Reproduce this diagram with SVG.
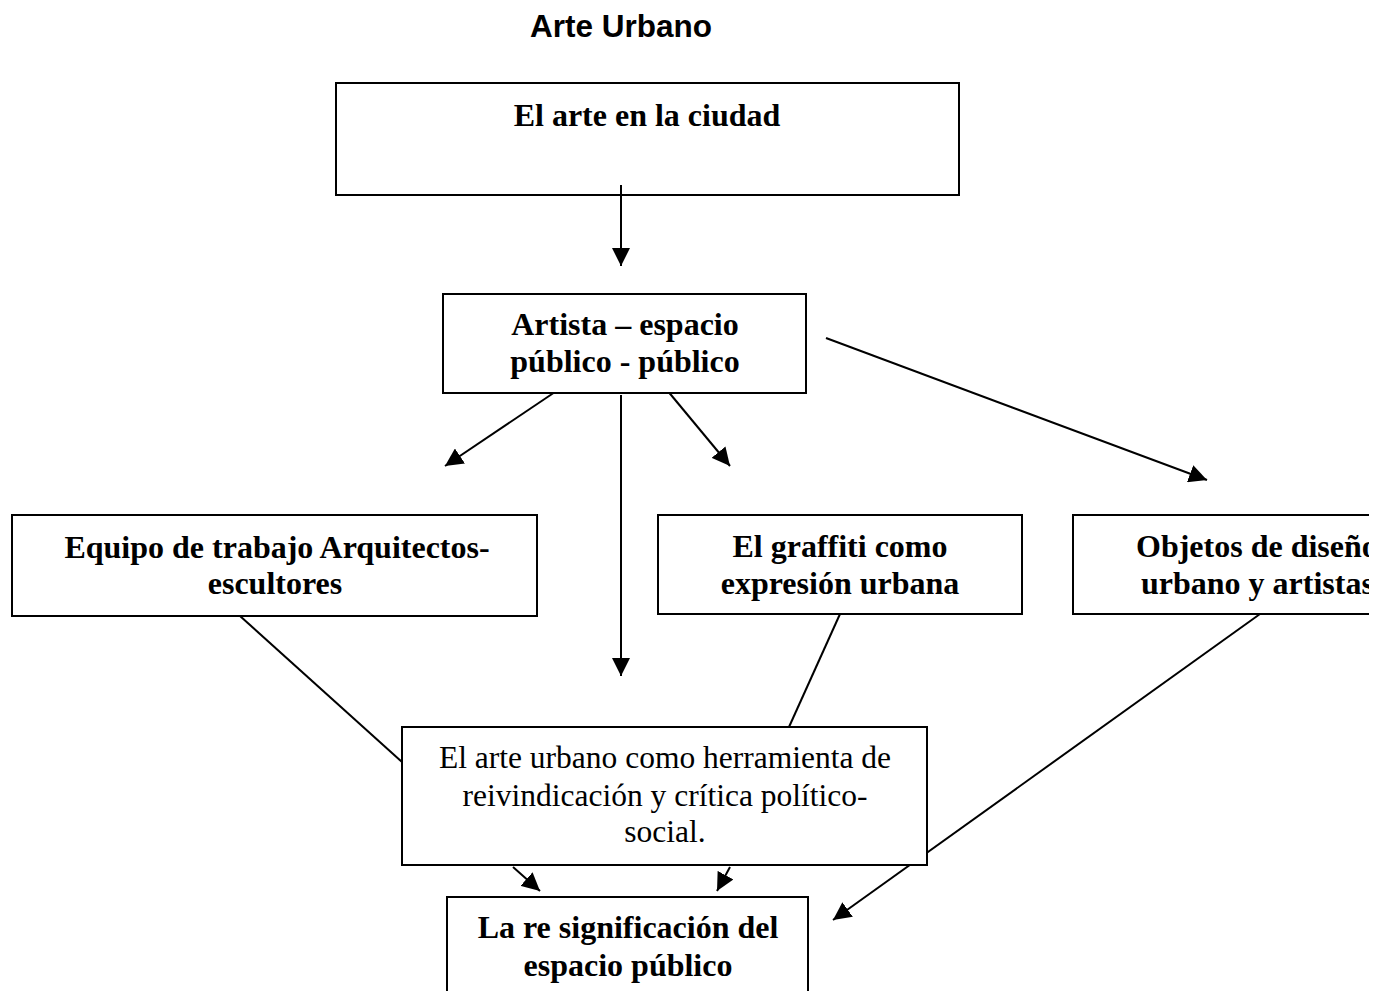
<svg xmlns="http://www.w3.org/2000/svg" width="1381" height="991" viewBox="0 0 1381 991">
<style>
.box{fill:#fff;stroke:#000;stroke-width:2}
.b{font-family:"Liberation Serif",serif;font-weight:bold;font-size:32px;fill:#000;text-anchor:middle}
.r{font-family:"Liberation Serif",serif;font-size:31.5px;fill:#000;text-anchor:middle}
.c{stroke:#000;stroke-width:2;fill:none}
.title{font-family:"Liberation Sans",Arial,sans-serif;font-weight:bold;font-size:31.5px;fill:#000}
</style>
<defs>
<marker id="ah2" viewBox="0 0 10 10" refX="10" refY="5" markerWidth="18" markerHeight="18" markerUnits="userSpaceOnUse" orient="auto">
<path d="M0,0 L10,5 L0,10 z" fill="#000"/>
</marker>
<clipPath id="clipR"><rect x="0" y="0" width="1369" height="991"/></clipPath>
</defs>
<rect width="1381" height="991" fill="#fff"/>
<text class="title" x="530" y="37">Arte Urbano</text>

<g id="connectors">
<line class="c" x1="621" y1="185" x2="621" y2="266" marker-end="url(#ah2)"/>
<line class="c" x1="555" y1="392" x2="445" y2="466" marker-end="url(#ah2)"/>
<line class="c" x1="621" y1="395" x2="621" y2="676" marker-end="url(#ah2)"/>
<line class="c" x1="657" y1="378" x2="730" y2="466" marker-end="url(#ah2)"/>
<line class="c" x1="826" y1="338" x2="1207" y2="480" marker-end="url(#ah2)"/>
<line class="c" x1="240" y1="616" x2="402" y2="762"/>
<line class="c" x1="840" y1="614" x2="789" y2="727"/>
<line class="c" x1="1260" y1="614" x2="833" y2="920" marker-end="url(#ah2)"/>
<line class="c" x1="513" y1="867" x2="540" y2="891" marker-end="url(#ah2)"/>
<line class="c" x1="730" y1="867" x2="717" y2="891" marker-end="url(#ah2)"/>
</g>

<g id="n1">
<rect class="box" x="336" y="83" width="623" height="112" style="fill:none"/>
<text class="b" x="647" y="126">El arte en la ciudad</text>
</g>

<g id="n2">
<rect class="box" x="443" y="294" width="363" height="99"/>
<text class="b" x="625" y="335">Artista – espacio</text>
<text class="b" x="625" y="372">público - público</text>
</g>

<g id="n3">
<rect class="box" x="12" y="515" width="525" height="101"/>
<text class="b" x="277" y="558">Equipo de trabajo Arquitectos-</text>
<text class="b" x="275" y="594">escultores</text>
</g>

<g id="n4">
<rect class="box" x="658" y="515" width="364" height="99"/>
<text class="b" x="840" y="557">El graffiti como</text>
<text class="b" x="840" y="594">expresión urbana</text>
</g>

<g id="n5" clip-path="url(#clipR)">
<rect class="box" x="1073" y="515" width="340" height="99"/>
<text class="b" x="1136" y="557" style="text-anchor:start">Objetos de diseño</text>
<text class="b" x="1141" y="594" style="text-anchor:start">urbano y artistas</text>
</g>

<g id="n6">
<rect class="box" x="402" y="727" width="525" height="138"/>
<text class="r" x="665" y="768">El arte urbano como herramienta de</text>
<text class="r" x="665" y="806">reivindicación y crítica político-</text>
<text class="r" x="665" y="842">social.</text>
</g>

<g id="n7">
<rect class="box" x="447" y="897" width="361" height="110"/>
<text class="b" x="628" y="938">La re significación del</text>
<text class="b" x="628" y="976">espacio público</text>
</g>
</svg>
